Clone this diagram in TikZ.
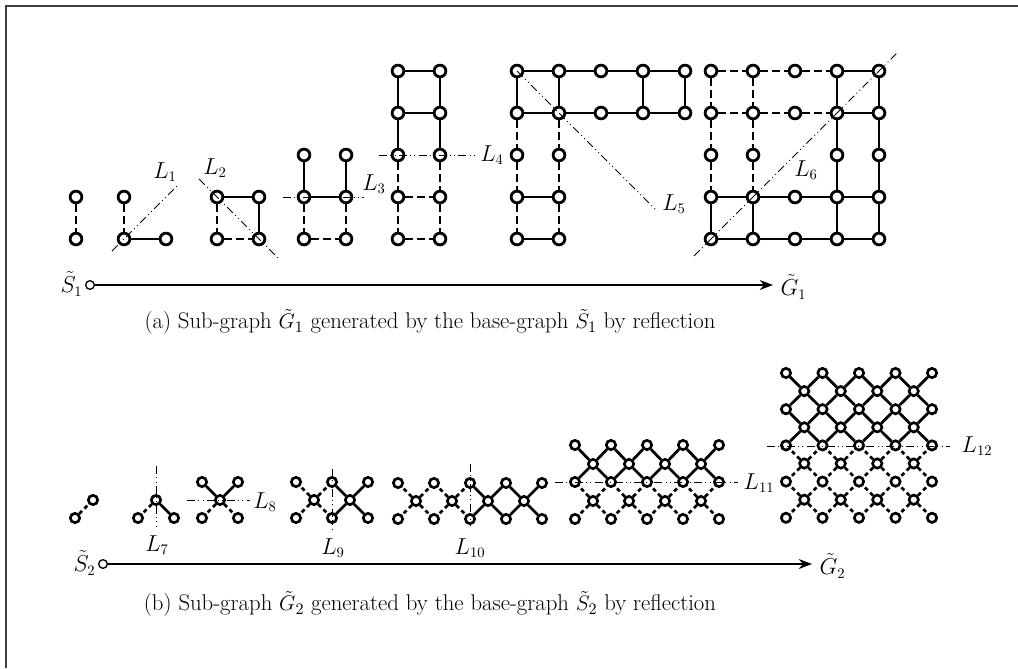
\documentclass[tikz,border=0pt]{standalone}
\usetikzlibrary{arrows.meta}
\tikzset{
  vt/.style={circle,draw,line width=2.1pt,fill=white,inner sep=0pt,minimum size=8.8pt},
  vs/.style={circle,draw,line width=2pt,fill=white,inner sep=0pt,minimum size=7pt},
  es/.style={line width=2.1pt},
  ed/.style={line width=2.1pt,dash pattern=on 5.5pt off 3.5pt},
  edb/.style={line width=2pt,dash pattern=on 3pt off 2.5pt},
  refl/.style={line width=0.7pt,dash pattern=on 6pt off 2.5pt on 0.7pt off 2.5pt on 0.7pt off 2.5pt},
  lab/.style={font=\fontsize{16}{19}\selectfont,inner sep=1pt},
  captxt/.style={font=\fontsize{15.5}{18}\selectfont},
  src/.style={circle,draw,line width=1pt,fill=white,inner sep=0pt,minimum size=6.5pt},
  flow/.style={line width=1.1pt,-{Stealth[length=10pt,width=7.5pt]}}
}
\begin{document}
\begin{tikzpicture}[x=0.75pt,y=-0.75pt]
\useasboundingbox (0,0) rectangle (1018,668);
\draw[line width=1pt,black!75] (6,668) -- (6,6) -- (1018,6);

% ---------- top row ----------
% comp 1
\node[vt] (a1) at (76,197) {};
\node[vt] (a2) at (76,239) {};
\draw[ed] (a1) -- (a2);
% comp 2
\node[vt] (b1) at (124,197) {};
\node[vt] (b2) at (124,239) {};
\node[vt] (b3) at (166,239) {};
\draw[ed] (b1) -- (b2);
\draw[es] (b2) -- (b3);
\coordinate (l1s) at (112,251); \coordinate (l1e) at (178,185);
\draw[refl] (l1s) -- (l1e);
\node[lab] (L1) at (165,172) {$L_1$};
% comp 3
\node[vt] (c1) at (217,197) {};
\node[vt] (c2) at (259,197) {};
\node[vt] (c3) at (217,239) {};
\node[vt] (c4) at (259,239) {};
\draw[es] (c1) -- (c2) (c2) -- (c4);
\draw[ed] (c1) -- (c3) (c3) -- (c4);
\coordinate (l2s) at (199,179); \coordinate (l2e) at (279,259);
\draw[refl] (l2s) -- (l2e);
\node[lab] (L2) at (215,168) {$L_2$};
% comp 4
\foreach \i/\x in {0/304,1/346} \foreach \j/\y in {0/155,1/197,2/239} \node[vt] (d\i\j) at (\x,\y) {};
\draw[es] (d00) -- (d01) (d10) -- (d11) (d01) -- (d11);
\draw[ed] (d01) -- (d02) (d11) -- (d12) (d02) -- (d12);
\coordinate (l3s) at (283,197); \coordinate (l3e) at (364,197);
\draw[refl] (l3s) -- (l3e);
\node[lab] (L3) at (374,184) {$L_3$};
% comp 5
\foreach \i/\x in {0/398,1/440} \foreach \j/\y in {0/71,1/113,2/155,3/197,4/239} \node[vt] (e\i\j) at (\x,\y) {};
\draw[es] (e00) -- (e10) (e01) -- (e11) (e00) -- (e01) (e01) -- (e02) (e10) -- (e11) (e11) -- (e12);
\draw[ed] (e02) -- (e03) (e03) -- (e04) (e12) -- (e13) (e13) -- (e14) (e03) -- (e13) (e04) -- (e14);
\coordinate (l4s) at (379,155); \coordinate (l4e) at (478,155);
\draw[refl] (l4s) -- (l4e);
\node[lab] (L4) at (492,155) {$L_4$};
% comp 6
\foreach \i in {0,...,4} \foreach \j in {0,1} \node[vt] (f\i\j) at (517+42*\i,71+42*\j) {};
\foreach \i in {0,1} \foreach \j in {2,3,4} \node[vt] (f\i\j) at (517+42*\i,71+42*\j) {};
\draw[es] (f00) -- (f10) -- (f20) -- (f30) -- (f40);
\draw[es] (f01) -- (f11) -- (f21) -- (f31) -- (f41);
\draw[es] (f00) -- (f01) (f10) -- (f11) (f30) -- (f31) (f40) -- (f41) (f03) -- (f13) (f04) -- (f14);
\draw[ed] (f01) -- (f02) (f02) -- (f03) (f03) -- (f04) (f11) -- (f12) (f12) -- (f13) (f13) -- (f14);
\coordinate (l5e) at (657,211);
\draw[refl] (f00.center) -- (l5e);
\node[lab] (L5) at (674,204) {$L_5$};
% comp 7
\foreach \i in {0,...,4} \foreach \j in {0,1,3,4} \node[vt] (g\i\j) at (711+42*\i,71+42*\j) {};
\foreach \i in {0,1,3,4} \node[vt] (g\i2) at (711+42*\i,155) {};
\draw[ed] (g00) -- (g10) (g10) -- (g20) (g20) -- (g30) (g01) -- (g11) (g11) -- (g21) (g21) -- (g31);
\draw[ed] (g00) -- (g01) (g01) -- (g02) (g02) -- (g03) (g10) -- (g11) (g11) -- (g12) (g12) -- (g13);
\draw[es] (g30) -- (g40) (g31) -- (g41) (g03) -- (g04) (g13) -- (g14);
\draw[es] (g30) -- (g31) -- (g32) -- (g33) -- (g34);
\draw[es] (g40) -- (g41) -- (g42) -- (g43) -- (g44);
\draw[es] (g03) -- (g13) -- (g23) -- (g33) -- (g43);
\draw[es] (g04) -- (g14) -- (g24) -- (g34) -- (g44);
\coordinate (l6s) at (694,256); \coordinate (l6e) at (898,52);
\draw[refl] (l6s) -- (l6e);
\node[lab] (L6) at (806,170) {$L_6$};
% arrow 1
\node[src] (s1) at (90,285) {};
\coordinate (g1) at (773,285);
\draw[flow] (s1) -- (g1);
\node[lab,anchor=east] (S1l) at (84,284) {$\tilde{S}_1$};
\node[lab,anchor=west] (G1l) at (779,287) {$\tilde{G}_1$};
\node[captxt] (capa) at (430,322) {\scalebox{1.1}{(a) Sub-graph $\tilde{G}_1$ generated by the base-graph $\tilde{S}_1$ by reflection}};

% ---------- bottom row ----------
% B1
\node[vs] (h1) at (75,518) {};
\node[vs] (h2) at (93,500) {};
\draw[edb] (h1) -- (h2);
% B2
\node[vs] (i0) at (156,500) {};
\node[vs] (i1) at (138,518) {};
\node[vs] (i2) at (174,518) {};
\draw[edb] (i0) -- (i1);
\draw[es] (i0) -- (i2);
\coordinate (l7s) at (156,466); \coordinate (l7e) at (156,526);
\draw[refl] (l7s) -- (l7e);
\node[lab] (L7) at (157,545) {$L_7$};
% B3
\node[vs] (j0) at (220,500) {};
\node[vs] (j1) at (202,482) {};
\node[vs] (j2) at (238,482) {};
\node[vs] (j3) at (202,518) {};
\node[vs] (j4) at (238,518) {};
\draw[es] (j0) -- (j1) (j0) -- (j2);
\draw[edb] (j0) -- (j3) (j0) -- (j4);
\coordinate (l8s) at (187,500); \coordinate (l8e) at (250,500);
\draw[refl] (l8s) -- (l8e);
\node[lab] (L8) at (265,502) {$L_8$};
% B4
\foreach \k in {0,1,2} {\node[vs] (kt\k) at (296+36*\k,482) {}; \node[vs] (kb\k) at (296+36*\k,518) {};}
\foreach \k in {0,1} \node[vs] (km\k) at (314+36*\k,500) {};
\draw[edb] (km0) -- (kt0) (km0) -- (kt1) (km0) -- (kb0) (km0) -- (kb1);
\draw[es] (km1) -- (kt1) (km1) -- (kt2) (km1) -- (kb1) (km1) -- (kb2);
\coordinate (l9s) at (332,469); \coordinate (l9e) at (332,529);
\draw[refl] (l9s) -- (l9e);
\node[lab] (L9) at (333,548) {$L_9$};
% B5
\foreach \k in {0,...,4} {\node[vs] (mt\k) at (398+36*\k,483) {}; \node[vs] (mb\k) at (398+36*\k,519) {};}
\foreach \k in {0,...,3} \node[vs] (mm\k) at (416+36*\k,501) {};
\foreach \k/\st in {0/edb,1/edb,2/es,3/es} {
  \pgfmathtruncatemacro\kk{\k+1}
  \draw[\st] (mm\k) -- (mt\k) (mm\k) -- (mt\kk) (mm\k) -- (mb\k) (mm\k) -- (mb\kk);
}
\coordinate (l10s) at (470,464); \coordinate (l10e) at (470,526);
\draw[refl] (l10s) -- (l10e);
\node[lab] (L10) at (470,548) {$L_{10}$};
% B6
\foreach \r/\y in {0/445,2/482,4/519} \foreach \k in {0,...,4} \node[vs] (p\r-\k) at (575+36*\k,\y) {};
\foreach \r/\y in {1/464,3/501} \foreach \k in {0,...,3} \node[vs] (p\r-\k) at (593+36*\k,\y) {};
\foreach \r/\st in {1/es,3/edb} \foreach \k in {0,...,3} {
  \pgfmathtruncatemacro\kk{\k+1}
  \pgfmathtruncatemacro\ru{\r-1}
  \pgfmathtruncatemacro\rd{\r+1}
  \draw[\st] (p\r-\k) -- (p\ru-\k) (p\r-\k) -- (p\ru-\kk) (p\r-\k) -- (p\rd-\k) (p\r-\k) -- (p\rd-\kk);
}
\coordinate (l11s) at (555,482); \coordinate (l11e) at (738,482);
\draw[refl] (l11s) -- (l11e);
\node[lab] (L11) at (759,483) {$L_{11}$};
% B7
\foreach \r in {0,2,4,6,8} \foreach \k in {0,...,4} \node[vs] (q\r-\k) at (786+36.5*\k,373+18.1*\r) {};
\foreach \r in {1,3,5,7} \foreach \k in {0,...,3} \node[vs] (q\r-\k) at (804.25+36.5*\k,373+18.1*\r) {};
\foreach \r/\st in {1/es,3/es,5/edb,7/edb} \foreach \k in {0,...,3} {
  \pgfmathtruncatemacro\kk{\k+1}
  \pgfmathtruncatemacro\ru{\r-1}
  \pgfmathtruncatemacro\rd{\r+1}
  \draw[\st] (q\r-\k) -- (q\ru-\k) (q\r-\k) -- (q\ru-\kk) (q\r-\k) -- (q\rd-\k) (q\r-\k) -- (q\rd-\kk);
}
\coordinate (l12s) at (767,446); \coordinate (l12e) at (950,446);
\draw[refl] (l12s) -- (l12e);
\node[lab] (L12) at (977,446) {$L_{12}$};
% arrow 2
\node[src] (s2) at (103,564) {};
\coordinate (g2) at (812,564);
\draw[flow] (s2) -- (g2);
\node[lab,anchor=east] (S2l) at (97,563) {$\tilde{S}_2$};
\node[lab,anchor=west] (G2l) at (818,566) {$\tilde{G}_2$};
\node[captxt] (capb) at (430,604) {\scalebox{1.1}{(b) Sub-graph $\tilde{G}_2$ generated by the base-graph $\tilde{S}_2$ by reflection}};
\end{tikzpicture}
\end{document}
